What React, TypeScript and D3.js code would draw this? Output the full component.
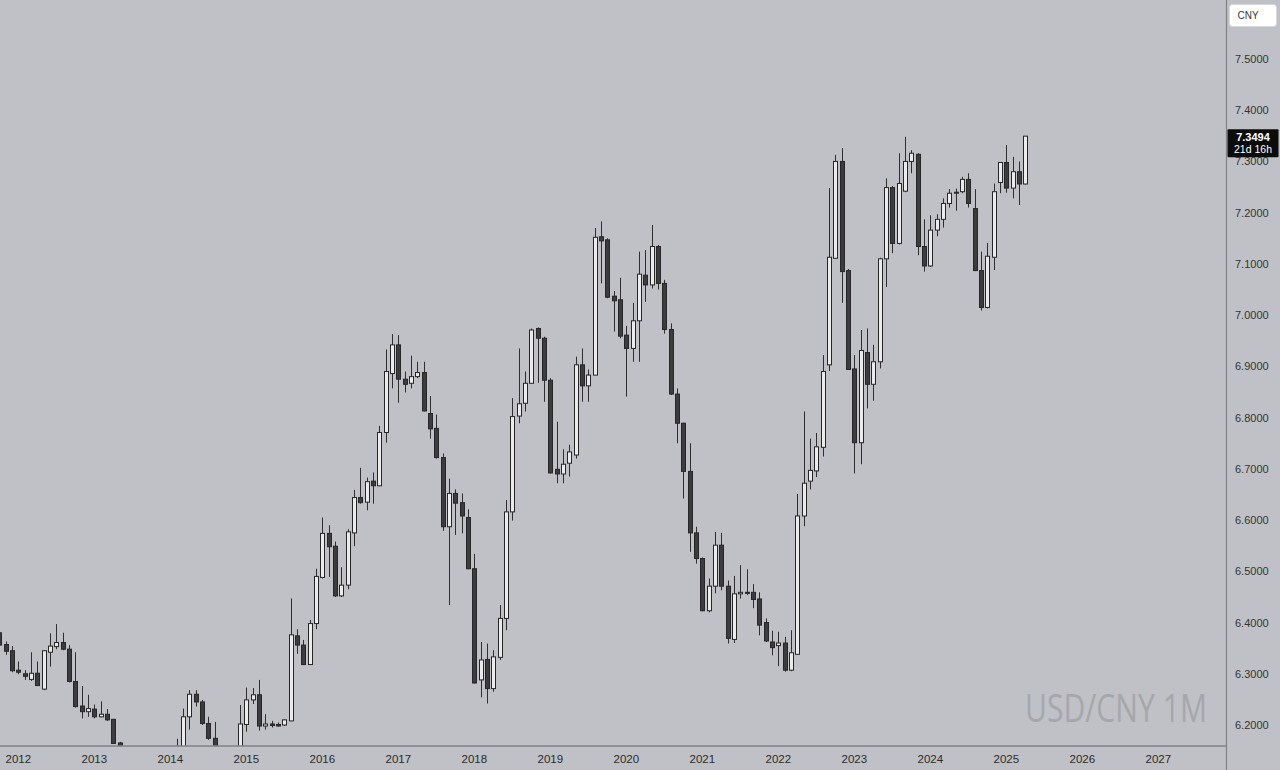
import React from 'react';
import * as d3 from 'd3';

// Monthly candles, first candle = Oct 2011
const START_YEAR = 2011;
const START_MONTH = 9; // 0-based: October

const opens = [
  6.380, 6.357, 6.345,
  6.307, 6.300, 6.289, 6.301, 6.270, 6.342, 6.353, 6.361, 6.348, 6.285, 6.237, 6.226,
  6.231, 6.216, 6.221, 6.211, 6.165, 6.150, 6.135, 6.128, 6.118, 6.120, 6.095, 6.093,
  6.054, 6.060, 6.130, 6.216, 6.260, 6.245, 6.203, 6.174, 6.152, 6.140, 6.115, 6.140,
  6.201, 6.249, 6.259, 6.198, 6.202, 6.201, 6.200, 6.208, 6.374, 6.356, 6.318, 6.398,
  6.488, 6.574, 6.549, 6.452, 6.473, 6.575, 6.644, 6.635, 6.676, 6.667, 6.771, 6.886,
  6.942, 6.875, 6.867, 6.880, 6.888, 6.808, 6.779, 6.722, 6.587, 6.652, 6.634, 6.605,
  6.505, 6.288, 6.328, 6.271, 6.332, 6.408, 6.616, 6.803, 6.828, 6.867, 6.974, 6.955,
  6.873, 6.699, 6.690, 6.711, 6.727, 6.903, 6.862, 6.883, 7.153, 7.147, 7.037, 7.030,
  6.961, 6.935, 6.989, 7.078, 7.059, 7.134, 7.062, 6.972, 6.846, 6.789, 6.695, 6.575,
  6.525, 6.423, 6.471, 6.551, 6.471, 6.367, 6.456, 6.459, 6.459, 6.446, 6.400, 6.362,
  6.355, 6.360, 6.307, 6.338, 6.608, 6.676, 6.696, 6.742, 6.903, 7.111, 7.300, 7.087,
  6.895, 6.751, 6.927, 6.865, 6.909, 7.110, 7.249, 7.140, 7.242, 7.300, 7.314, 7.134,
  7.096, 7.166, 7.187, 7.218, 7.238, 7.241, 7.265, 7.208, 7.087, 7.015, 7.113, 7.259,
  7.298, 7.248, 7.280, 7.256,
];

const highs = [
  6.386, 6.363, 6.354,
  6.324, 6.307, 6.342, 6.324, 6.346, 6.379, 6.397, 6.380, 6.356, 6.342, 6.276, 6.259,
  6.240, 6.246, 6.231, 6.212, 6.167, 6.155, 6.150, 6.135, 6.135, 6.125, 6.110, 6.100,
  6.068, 6.173, 6.232, 6.268, 6.268, 6.249, 6.216, 6.206, 6.158, 6.150, 6.155, 6.239,
  6.273, 6.272, 6.288, 6.221, 6.208, 6.205, 6.211, 6.447, 6.387, 6.366, 6.405, 6.505,
  6.605, 6.590, 6.558, 6.508, 6.582, 6.659, 6.702, 6.683, 6.693, 6.784, 6.933, 6.963,
  6.961, 6.890, 6.921, 6.909, 6.909, 6.842, 6.806, 6.730, 6.681, 6.660, 6.652, 6.621,
  6.534, 6.362, 6.359, 6.346, 6.434, 6.639, 6.838, 6.935, 6.890, 6.974, 6.976, 6.958,
  6.877, 6.792, 6.738, 6.747, 6.919, 6.935, 6.894, 7.170, 7.183, 7.150, 7.047, 7.073,
  6.979, 7.024, 7.124, 7.127, 7.176, 7.137, 7.069, 6.984, 6.857, 6.790, 6.750, 6.587,
  6.527, 6.486, 6.577, 6.575, 6.482, 6.491, 6.512, 6.504, 6.475, 6.459, 6.408, 6.384,
  6.382, 6.372, 6.385, 6.651, 6.812, 6.759, 6.770, 6.922, 7.248, 7.313, 7.326, 7.090,
  6.922, 6.971, 6.974, 6.942, 7.112, 7.267, 7.252, 7.316, 7.348, 7.322, 7.316, 7.187,
  7.195, 7.197, 7.228, 7.246, 7.247, 7.270, 7.277, 7.246, 7.124, 7.141, 7.257, 7.298,
  7.332, 7.309, 7.300, 7.3494,
];

const lows = [
  6.352, 6.337, 6.303,
  6.299, 6.288, 6.286, 6.276, 6.268, 6.314, 6.348, 6.346, 6.283, 6.234, 6.213, 6.216,
  6.213, 6.215, 6.208, 6.163, 6.130, 6.110, 6.120, 6.110, 6.110, 6.090, 6.090, 6.053,
  6.040, 6.050, 6.120, 6.191, 6.236, 6.200, 6.171, 6.145, 6.120, 6.100, 6.110, 6.120,
  6.187, 6.241, 6.189, 6.191, 6.195, 6.197, 6.198, 6.208, 6.339, 6.317, 6.317, 6.387,
  6.486, 6.489, 6.450, 6.450, 6.465, 6.549, 6.632, 6.619, 6.632, 6.666, 6.751, 6.857,
  6.829, 6.849, 6.857, 6.877, 6.812, 6.759, 6.720, 6.579, 6.434, 6.571, 6.574, 6.504,
  6.281, 6.254, 6.242, 6.265, 6.327, 6.385, 6.599, 6.789, 6.812, 6.867, 6.868, 6.831,
  6.691, 6.672, 6.672, 6.685, 6.720, 6.831, 6.831, 6.883, 7.062, 7.033, 6.968, 6.955,
  6.841, 6.909, 6.909, 7.026, 7.052, 7.050, 6.964, 6.844, 6.750, 6.642, 6.538, 6.515,
  6.422, 6.420, 6.457, 6.463, 6.359, 6.360, 6.447, 6.454, 6.428, 6.375, 6.362, 6.336,
  6.315, 6.304, 6.305, 6.338, 6.588, 6.660, 6.684, 6.724, 6.891, 7.110, 7.024, 6.894,
  6.691, 6.709, 6.818, 6.833, 6.896, 7.055, 7.121, 7.138, 7.240, 7.277, 7.117, 7.085,
  7.094, 7.154, 7.171, 7.210, 7.204, 7.238, 7.210, 7.086, 7.009, 7.013, 7.088, 7.238,
  7.239, 7.228, 7.215, 7.255,
];

const closes = [
  6.356, 6.344, 6.306,
  6.303, 6.295, 6.301, 6.277, 6.345, 6.354, 6.361, 6.348, 6.285, 6.236, 6.226, 6.232,
  6.216, 6.221, 6.210, 6.164, 6.150, 6.135, 6.128, 6.118, 6.120, 6.095, 6.093, 6.054,
  6.060, 6.130, 6.216, 6.260, 6.245, 6.203, 6.174, 6.152, 6.140, 6.115, 6.140, 6.202,
  6.249, 6.259, 6.198, 6.202, 6.199, 6.198, 6.210, 6.376, 6.356, 6.318, 6.398, 6.490,
  6.574, 6.548, 6.452, 6.473, 6.577, 6.644, 6.634, 6.675, 6.667, 6.771, 6.890, 6.942,
  6.875, 6.865, 6.880, 6.888, 6.813, 6.778, 6.722, 6.587, 6.652, 6.633, 6.608, 6.505,
  6.282, 6.327, 6.271, 6.333, 6.408, 6.616, 6.802, 6.827, 6.867, 6.971, 6.955, 6.873,
  6.692, 6.690, 6.709, 6.733, 6.903, 6.862, 6.883, 7.152, 7.145, 7.035, 7.028, 6.959,
  6.935, 6.989, 7.080, 7.059, 7.134, 7.062, 6.972, 6.846, 6.789, 6.695, 6.575, 6.525,
  6.423, 6.471, 6.551, 6.471, 6.369, 6.456, 6.459, 6.457, 6.445, 6.395, 6.364, 6.351,
  6.360, 6.307, 6.341, 6.608, 6.672, 6.697, 6.743, 6.890, 7.113, 7.300, 7.085, 6.894,
  6.751, 6.931, 6.865, 6.909, 7.110, 7.249, 7.140, 7.257, 7.300, 7.316, 7.134, 7.096,
  7.166, 7.187, 7.218, 7.238, 7.240, 7.265, 7.218, 7.087, 7.015, 7.115, 7.241, 7.298,
  7.248, 7.280, 7.256, 7.3494,
];

const yearTicks = [2012, 2013, 2014, 2015, 2016, 2017, 2018, 2019, 2020, 2021, 2022, 2023, 2024, 2025, 2026, 2027];
const priceTicks = [6.2, 6.3, 6.4, 6.5, 6.6, 6.7, 6.8, 6.9, 7.0, 7.1, 7.2, 7.3, 7.4, 7.5];
const lastPrice = 7.3494;
const countdownText = '21d 16h';
const currencyLabel = 'CNY';
const watermarkText = 'USD/CNY 1M';

const W = 1280;
const H = 770;
const PLOT_R = 1226.5;
const PLOT_B = 746;
const BG = '#c0c1c6';
const LINE = '#808185';
const FONT = '"Liberation Sans", Arial, sans-serif';

export default function App() {
  // month index relative to Jan 2012
  const x = d3.scaleLinear().domain([0, 12]).range([18.3, 94.3]);
  const y = d3.scaleLinear().domain([6.2, 7.5]).range([725, 59]);
  const offset = (START_YEAR - 2012) * 12 + START_MONTH;

  const candles = opens.map((o, i) => ({
    o,
    h: highs[i],
    l: lows[i],
    c: closes[i],
    idx: i + offset,
  }));

  return (
    <svg
      width={W}
      height={H}
      style={{ position: 'absolute', left: 0, top: 0, display: 'block' }}
    >
      <defs>
        <clipPath id="plotClip">
          <rect x={0} y={0} width={PLOT_R} height={PLOT_B} />
        </clipPath>
      </defs>
      <rect x={0} y={0} width={W} height={H} fill={BG} />

      {/* watermark */}
      <g transform="translate(1025,722) scale(1,1.25)">
        <text
          x={0}
          y={0}
          fontFamily='"Open Sans", "DejaVu Sans", sans-serif'
          fontSize={30}
          fill="#a6a7ab"
          textLength={182}
          lengthAdjust="spacingAndGlyphs"
        >
          {watermarkText}
        </text>
      </g>

      {/* candles */}
      <g clipPath="url(#plotClip)">
        {candles.map((d, i) => {
          const xr = Math.round(x(d.idx));
          const up = d.c >= d.o;
          const top = y(Math.max(d.o, d.c));
          const bot = y(Math.min(d.o, d.c));
          const hgt = Math.max(1, bot - top);
          return (
            <g key={i}>
              <line
                x1={xr + 0.5}
                x2={xr + 0.5}
                y1={y(d.h)}
                y2={y(d.l)}
                stroke="#2e2e30"
                strokeWidth={1}
              />
              <rect
                x={xr - 1.5}
                y={top}
                width={4}
                height={hgt}
                fill={up ? '#ebebec' : '#3c3c3e'}
                stroke="#262628"
                strokeWidth={1}
              />
            </g>
          );
        })}
      </g>

      {/* axes lines */}
      <line x1={PLOT_R} x2={PLOT_R} y1={0} y2={H} stroke={LINE} strokeWidth={1.2} />
      <line x1={0} x2={PLOT_R} y1={PLOT_B} y2={PLOT_B} stroke={LINE} strokeWidth={1.5} />

      {/* price axis labels */}
      {priceTicks.map((p) => (
        <text
          key={p}
          x={1235}
          y={y(p) + 4}
          fontFamily={FONT}
          fontSize={11}
          fill="#333336"
        >
          {p.toFixed(4)}
        </text>
      ))}

      {/* year labels */}
      {yearTicks.map((yr) => (
        <text
          key={yr}
          x={x((yr - 2012) * 12)}
          y={763}
          textAnchor="middle"
          fontFamily={FONT}
          fontSize={11.5}
          fill="#2a2a2c"
        >
          {yr}
        </text>
      ))}

      {/* currency box */}
      <rect x={1229.5} y={4.5} width={47} height={22} rx={3} fill="#ffffff" stroke="#d8d8da" />
      <text x={1248} y={19} textAnchor="middle" fontFamily={FONT} fontSize={10} fill="#333">
        {currencyLabel}
      </text>

      {/* last price label */}
      <rect x={1227.5} y={y(lastPrice) - 7} width={51} height={28} rx={1} fill="#0c0c0d" />
      <text
        x={1253}
        y={y(lastPrice) + 4.5}
        textAnchor="middle"
        fontFamily={FONT}
        fontSize={11}
        fontWeight="bold"
        fill="#ffffff"
      >
        {lastPrice.toFixed(4)}
      </text>
      <text
        x={1253}
        y={y(lastPrice) + 17}
        textAnchor="middle"
        fontFamily={FONT}
        fontSize={10.5}
        fill="#ffffff"
      >
        {countdownText}
      </text>
    </svg>
  );
}
